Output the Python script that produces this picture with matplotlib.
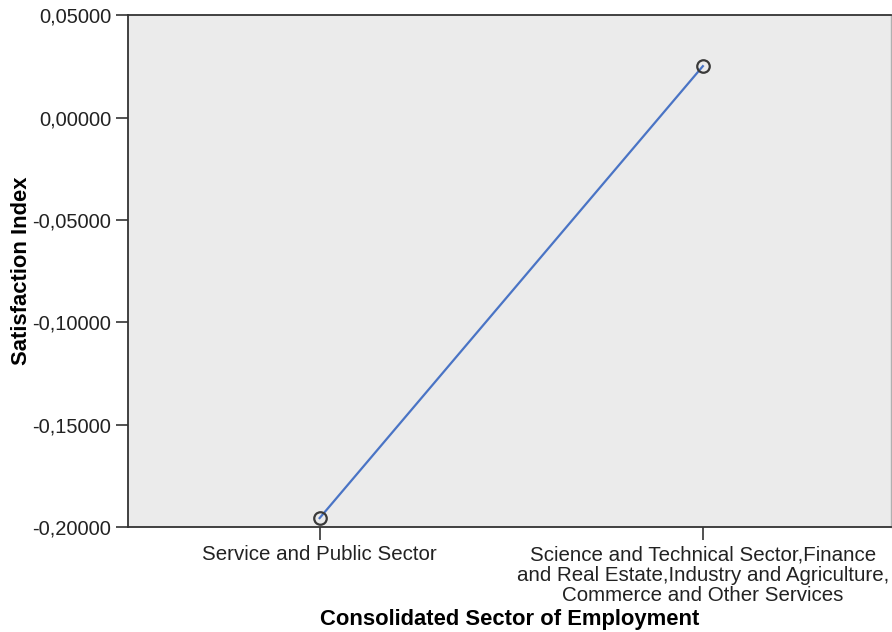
import matplotlib
matplotlib.use("Agg")
import matplotlib.pyplot as plt
from matplotlib.ticker import FuncFormatter

plt.rcParams['font.family'] = ['Liberation Sans', 'DejaVu Sans']

sectors = [
    "Service and Public Sector",
    "Science and Technical Sector,Finance\nand Real Estate,Industry and Agriculture,\nCommerce and Other Services",
]
satisfaction = [-0.1956, 0.0251]

fig = plt.figure(figsize=(8.92, 6.32), dpi=100)
ax = fig.add_axes([0.1435, 0.166, 0.855, 0.81])
ax.set_facecolor('#ebebeb')

x = list(range(len(sectors)))
ax.plot(x, satisfaction, color='#4a74c5', linewidth=1.6, zorder=2)
ax.plot(x, satisfaction, linestyle='none', marker='o', markersize=9,
        markerfacecolor='none', markeredgecolor='#3a3a3a', markeredgewidth=1.6, zorder=3)

ax.set_xlim(-0.5, 1.49)
ax.set_ylim(-0.2, 0.05)
ax.set_yticks([-0.2, -0.15, -0.1, -0.05, 0.0, 0.05])
ax.yaxis.set_major_formatter(FuncFormatter(lambda v, p: f"{v:.5f}".replace('.', ',').replace('-0,00000', '0,00000')))
ax.set_xticks(x)
ax.set_xticklabels(sectors, fontsize=14.8, color='#222222', linespacing=1.1)
ax.tick_params(axis='y', labelsize=14.5, labelcolor='#222222', length=9, width=1.2, color='#333333', pad=3)
ax.tick_params(axis='x', length=9, width=1.2, color='#333333', pad=4)

for side in ['left', 'bottom', 'top']:
    ax.spines[side].set_color('#333333')
    ax.spines[side].set_linewidth(1.3)
ax.spines['right'].set_color('#b0b0b0')
ax.spines['right'].set_linewidth(1.0)

ax.set_ylabel('Satisfaction Index', fontsize=15.8, fontweight='bold', labelpad=0)
ax.set_xlabel('Consolidated Sector of Employment', fontsize=15.8, fontweight='bold', labelpad=2.5)

fig.savefig('out.png', dpi=100)
